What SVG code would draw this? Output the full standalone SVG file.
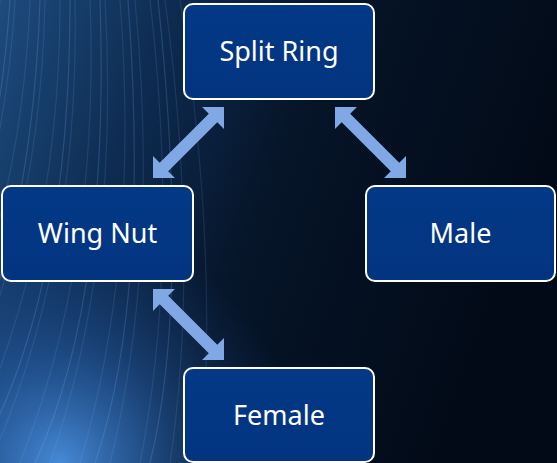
<svg xmlns="http://www.w3.org/2000/svg" width="557" height="463" viewBox="0 0 557 463">
<defs>
<linearGradient id="bg" x1="0" y1="0" x2="1" y2="0.3">
<stop offset="0" stop-color="#1d4b7d"/>
<stop offset="0.3" stop-color="#0d2a4f"/>
<stop offset="0.55" stop-color="#061529"/>
<stop offset="1" stop-color="#020a17"/>
</linearGradient>
<radialGradient id="glow" cx="60" cy="463" r="240" gradientUnits="userSpaceOnUse">
<stop offset="0" stop-color="#4d95e6" stop-opacity="0.9"/>
<stop offset="0.5" stop-color="#2a66b4" stop-opacity="0.45"/>
<stop offset="1" stop-color="#1a4a90" stop-opacity="0"/>
</radialGradient>
<linearGradient id="box" x1="0" y1="0" x2="0" y2="1">
<stop offset="0" stop-color="#033987"/>
<stop offset="1" stop-color="#023480"/>
</linearGradient>
<path id="arr" d="M0,0 L15.5,-15.5 L15.5,-6 L84.9,-6 L84.9,-15.5 L100.4,0 L84.9,15.5 L84.9,6 L15.5,6 L15.5,15.5 Z"/>
<style>
.node rect{fill:url(#box);stroke:#ffffff;stroke-width:2}
.node text{fill:#ffffff;font-family:"Noto Sans","Open Sans",sans-serif;font-size:27px;text-anchor:middle}
.conn use{fill:#80a8e4}
.streak{fill:none;stroke:#8cc0ff;stroke-width:1.2}
</style>
</defs>
<rect width="557" height="463" fill="url(#bg)"/>
<rect width="557" height="463" fill="url(#glow)"/>
<g opacity="0.12">
<path class="streak" d="M-220,463 Q-60,260 -40,0"/>
<path class="streak" d="M-190,463 Q-40,260 -20,0"/>
<path class="streak" d="M-160,463 Q-20,260 0,0"/>
<path class="streak" d="M-130,463 Q0,260 15,0"/>
<path class="streak" d="M-100,463 Q20,260 30,0"/>
<path class="streak" d="M-70,463 Q40,260 45,0"/>
<path class="streak" d="M-40,463 Q60,260 60,0"/>
<path class="streak" d="M-10,463 Q80,260 75,0"/>
<path class="streak" d="M20,463 Q100,260 90,0"/>
<path class="streak" d="M50,463 Q120,260 105,0"/>
<path class="streak" d="M80,463 Q140,260 120,0"/>
<path class="streak" d="M110,463 Q160,260 135,0"/>
<path class="streak" d="M140,463 Q180,260 150,0"/>
<path class="streak" d="M170,463 Q200,260 165,0"/>
<path class="streak" d="M200,463 Q220,260 180,0"/>
</g>
<g opacity="0.18">
<path class="streak" d="M-150,463 Q-10,300 10,0"/>
<path class="streak" d="M-85,463 Q30,300 40,0"/>
<path class="streak" d="M-25,463 Q70,300 70,0"/>
<path class="streak" d="M35,463 Q110,300 100,0"/>
<path class="streak" d="M95,463 Q150,300 128,0"/>
<path class="streak" d="M150,463 Q190,300 158,0"/>
</g>
<g id="connectors" class="conn">
<use href="#arr" transform="translate(153,178) rotate(-45)"/>
<use href="#arr" transform="translate(335,107) rotate(45)"/>
<use href="#arr" transform="translate(153,289) rotate(45)"/>
</g>
<g id="split-ring" class="node">
<rect x="184" y="4" width="190" height="95" rx="9"/>
<text x="279" y="61">Split Ring</text>
</g>
<g id="wing-nut" class="node">
<rect x="2" y="186" width="191" height="95" rx="9"/>
<text x="97.5" y="243">Wing Nut</text>
</g>
<g id="male" class="node">
<rect x="366" y="186" width="189" height="95" rx="9"/>
<text x="460.5" y="243">Male</text>
</g>
<g id="female" class="node">
<rect x="184" y="368" width="190" height="94" rx="9"/>
<text x="279" y="425">Female</text>
</g>
</svg>
